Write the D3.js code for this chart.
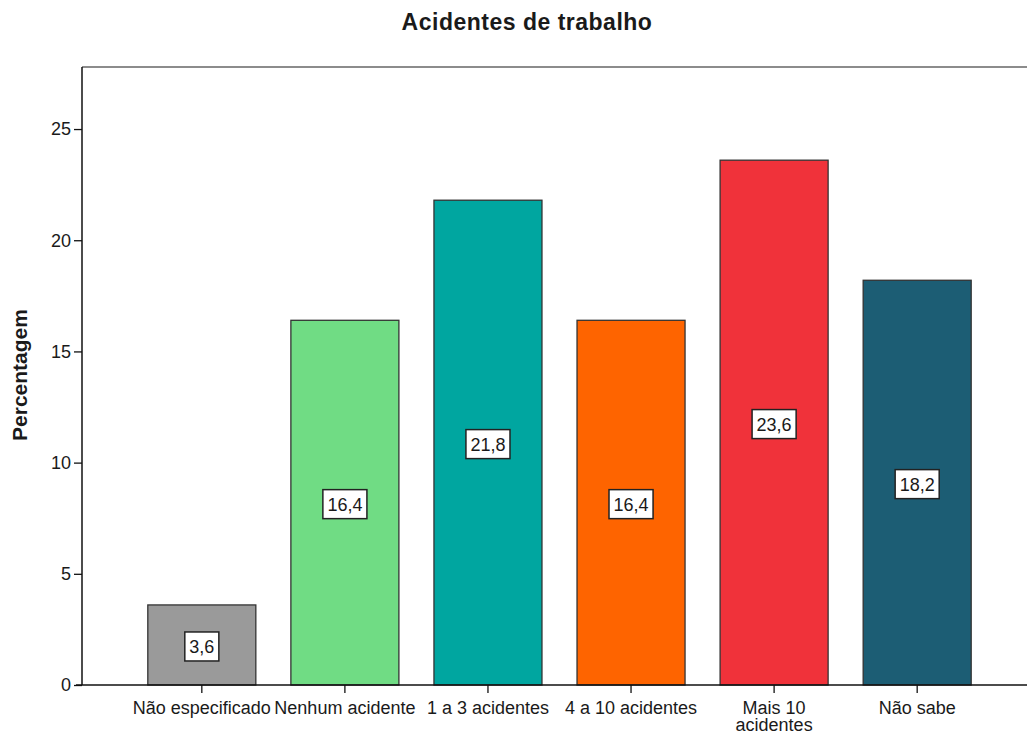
<!DOCTYPE html>
<html>
<head>
<meta charset="utf-8">
<script src="https://cdn.jsdelivr.net/npm/d3@7/dist/d3.min.js"></script>
<style>
  html, body { margin: 0; padding: 0; background: #fff; }
  svg { display: block; }
  text { font-family: "Liberation Sans", Arial, sans-serif; fill: #1a1a1a; }
</style>
</head>
<body>
<svg id="chart" width="1027" height="733"></svg>
<script>
// Work accidents survey: share of respondents per category (%)
const categories = ["Não especificado", "Nenhum acidente", "1 a 3 acidentes", "4 a 10 acidentes", "Mais 10 acidentes", "Não sabe"];
const categoryLines = [["Não especificado"], ["Nenhum acidente"], ["1 a 3 acidentes"], ["4 a 10 acidentes"], ["Mais 10", "acidentes"], ["Não sabe"]];
const percentages = [3.6, 16.4, 21.8, 16.4, 23.6, 18.2];
const barColors = ["#9a9a9a", "#70dc84", "#00a6a0", "#fe6400", "#f0323a", "#1c5d74"];
const yTicks = [0, 5, 10, 15, 20, 25];
const chartTitle = "Acidentes de trabalho";
const yTitle = "Percentagem";

const svg = d3.select("#chart");
const plotLeft = 82, plotRight = 1037, plotTop = 67, plotBottom = 685;

const x = d3.scaleBand()
  .domain(categories)
  .range([plotLeft, plotRight])
  .paddingInner(0.245)
  .paddingOuter(0.46);

const y = d3.scaleLinear()
  .domain([0, 27.79])
  .range([plotBottom, plotTop]);

const fmt = v => d3.format(".1f")(v).replace(".", ",");

// Plot frame: grey top border
svg.append("line")
  .attr("x1", plotLeft).attr("x2", 1027)
  .attr("y1", plotTop).attr("y2", plotTop)
  .attr("stroke", "#8c8c8c").attr("stroke-width", 2.2);

// Bars
svg.append("g").selectAll("rect")
  .data(percentages)
  .join("rect")
  .attr("x", (d, i) => x(categories[i]))
  .attr("y", d => y(d))
  .attr("width", x.bandwidth())
  .attr("height", d => plotBottom - y(d))
  .attr("fill", (d, i) => barColors[i])
  .attr("stroke", "#333")
  .attr("stroke-width", 1.3);

// Value labels in white boxes at bar mid-height
const labels = svg.append("g").selectAll("g")
  .data(percentages)
  .join("g")
  .attr("transform", (d, i) => `translate(${x(categories[i]) + x.bandwidth() / 2},${y(d / 2) + 1.5})`);

labels.append("text")
  .attr("text-anchor", "middle")
  .attr("dy", "0.36em")
  .attr("font-size", 18)
  .text(d => fmt(d))
  .each(function () {
    const bb = this.getBBox();
    d3.select(this.parentNode).insert("rect", "text")
      .attr("x", bb.x - 4.5)
      .attr("y", -14.5)
      .attr("width", bb.width + 9)
      .attr("height", 29)
      .attr("fill", "#fff")
      .attr("stroke", "#222")
      .attr("stroke-width", 1.5);
  });

// Y axis
const yAxis = svg.append("g")
  .attr("transform", `translate(${plotLeft},0)`)
  .call(d3.axisLeft(y).tickValues(yTicks).tickSize(8).tickPadding(3).tickSizeOuter(0));
yAxis.select(".domain").attr("stroke", "#111").attr("stroke-width", 1.5)
  .attr("d", `M0,${plotTop}V${plotBottom}`);
yAxis.selectAll(".tick line").attr("stroke", "#111").attr("stroke-width", 1.3);
yAxis.selectAll(".tick text")
  .attr("font-size", 18)
  .attr("font-family", "Liberation Sans, Arial, sans-serif")
  .attr("fill", "#1a1a1a");

// X axis
const xAxis = svg.append("g")
  .attr("transform", `translate(0,${plotBottom})`)
  .call(d3.axisBottom(x).tickSize(8).tickSizeOuter(0).tickFormat(""));
xAxis.select(".domain").attr("stroke", "#111").attr("stroke-width", 1.5)
  .attr("d", `M${plotLeft - 6},0H1027`);
xAxis.selectAll(".tick line").attr("stroke", "#111").attr("stroke-width", 1.3);

// Category labels (may wrap onto two lines)
xAxis.selectAll(".tick").each(function (d, i) {
  const t = d3.select(this).append("text")
    .attr("text-anchor", "middle")
    .attr("font-size", 18)
    .attr("font-family", "Liberation Sans, Arial, sans-serif")
    .attr("fill", "#1a1a1a")
    .attr("y", 29);
  categoryLines[i].forEach((line, j) => {
    t.append("tspan").attr("x", 0).attr("dy", j === 0 ? 0 : 17).text(line);
  });
});

// Chart title
svg.append("text")
  .attr("x", 527).attr("y", 30)
  .attr("text-anchor", "middle")
  .attr("font-size", 23)
  .attr("font-weight", "bold")
  .attr("letter-spacing", 0.5)
  .text(chartTitle);

// Y axis title
svg.append("text")
  .attr("transform", `translate(27,375) rotate(-90)`)
  .attr("text-anchor", "middle")
  .attr("font-size", 21)
  .attr("font-weight", "bold")
  .text(yTitle);
</script>
</body>
</html>
